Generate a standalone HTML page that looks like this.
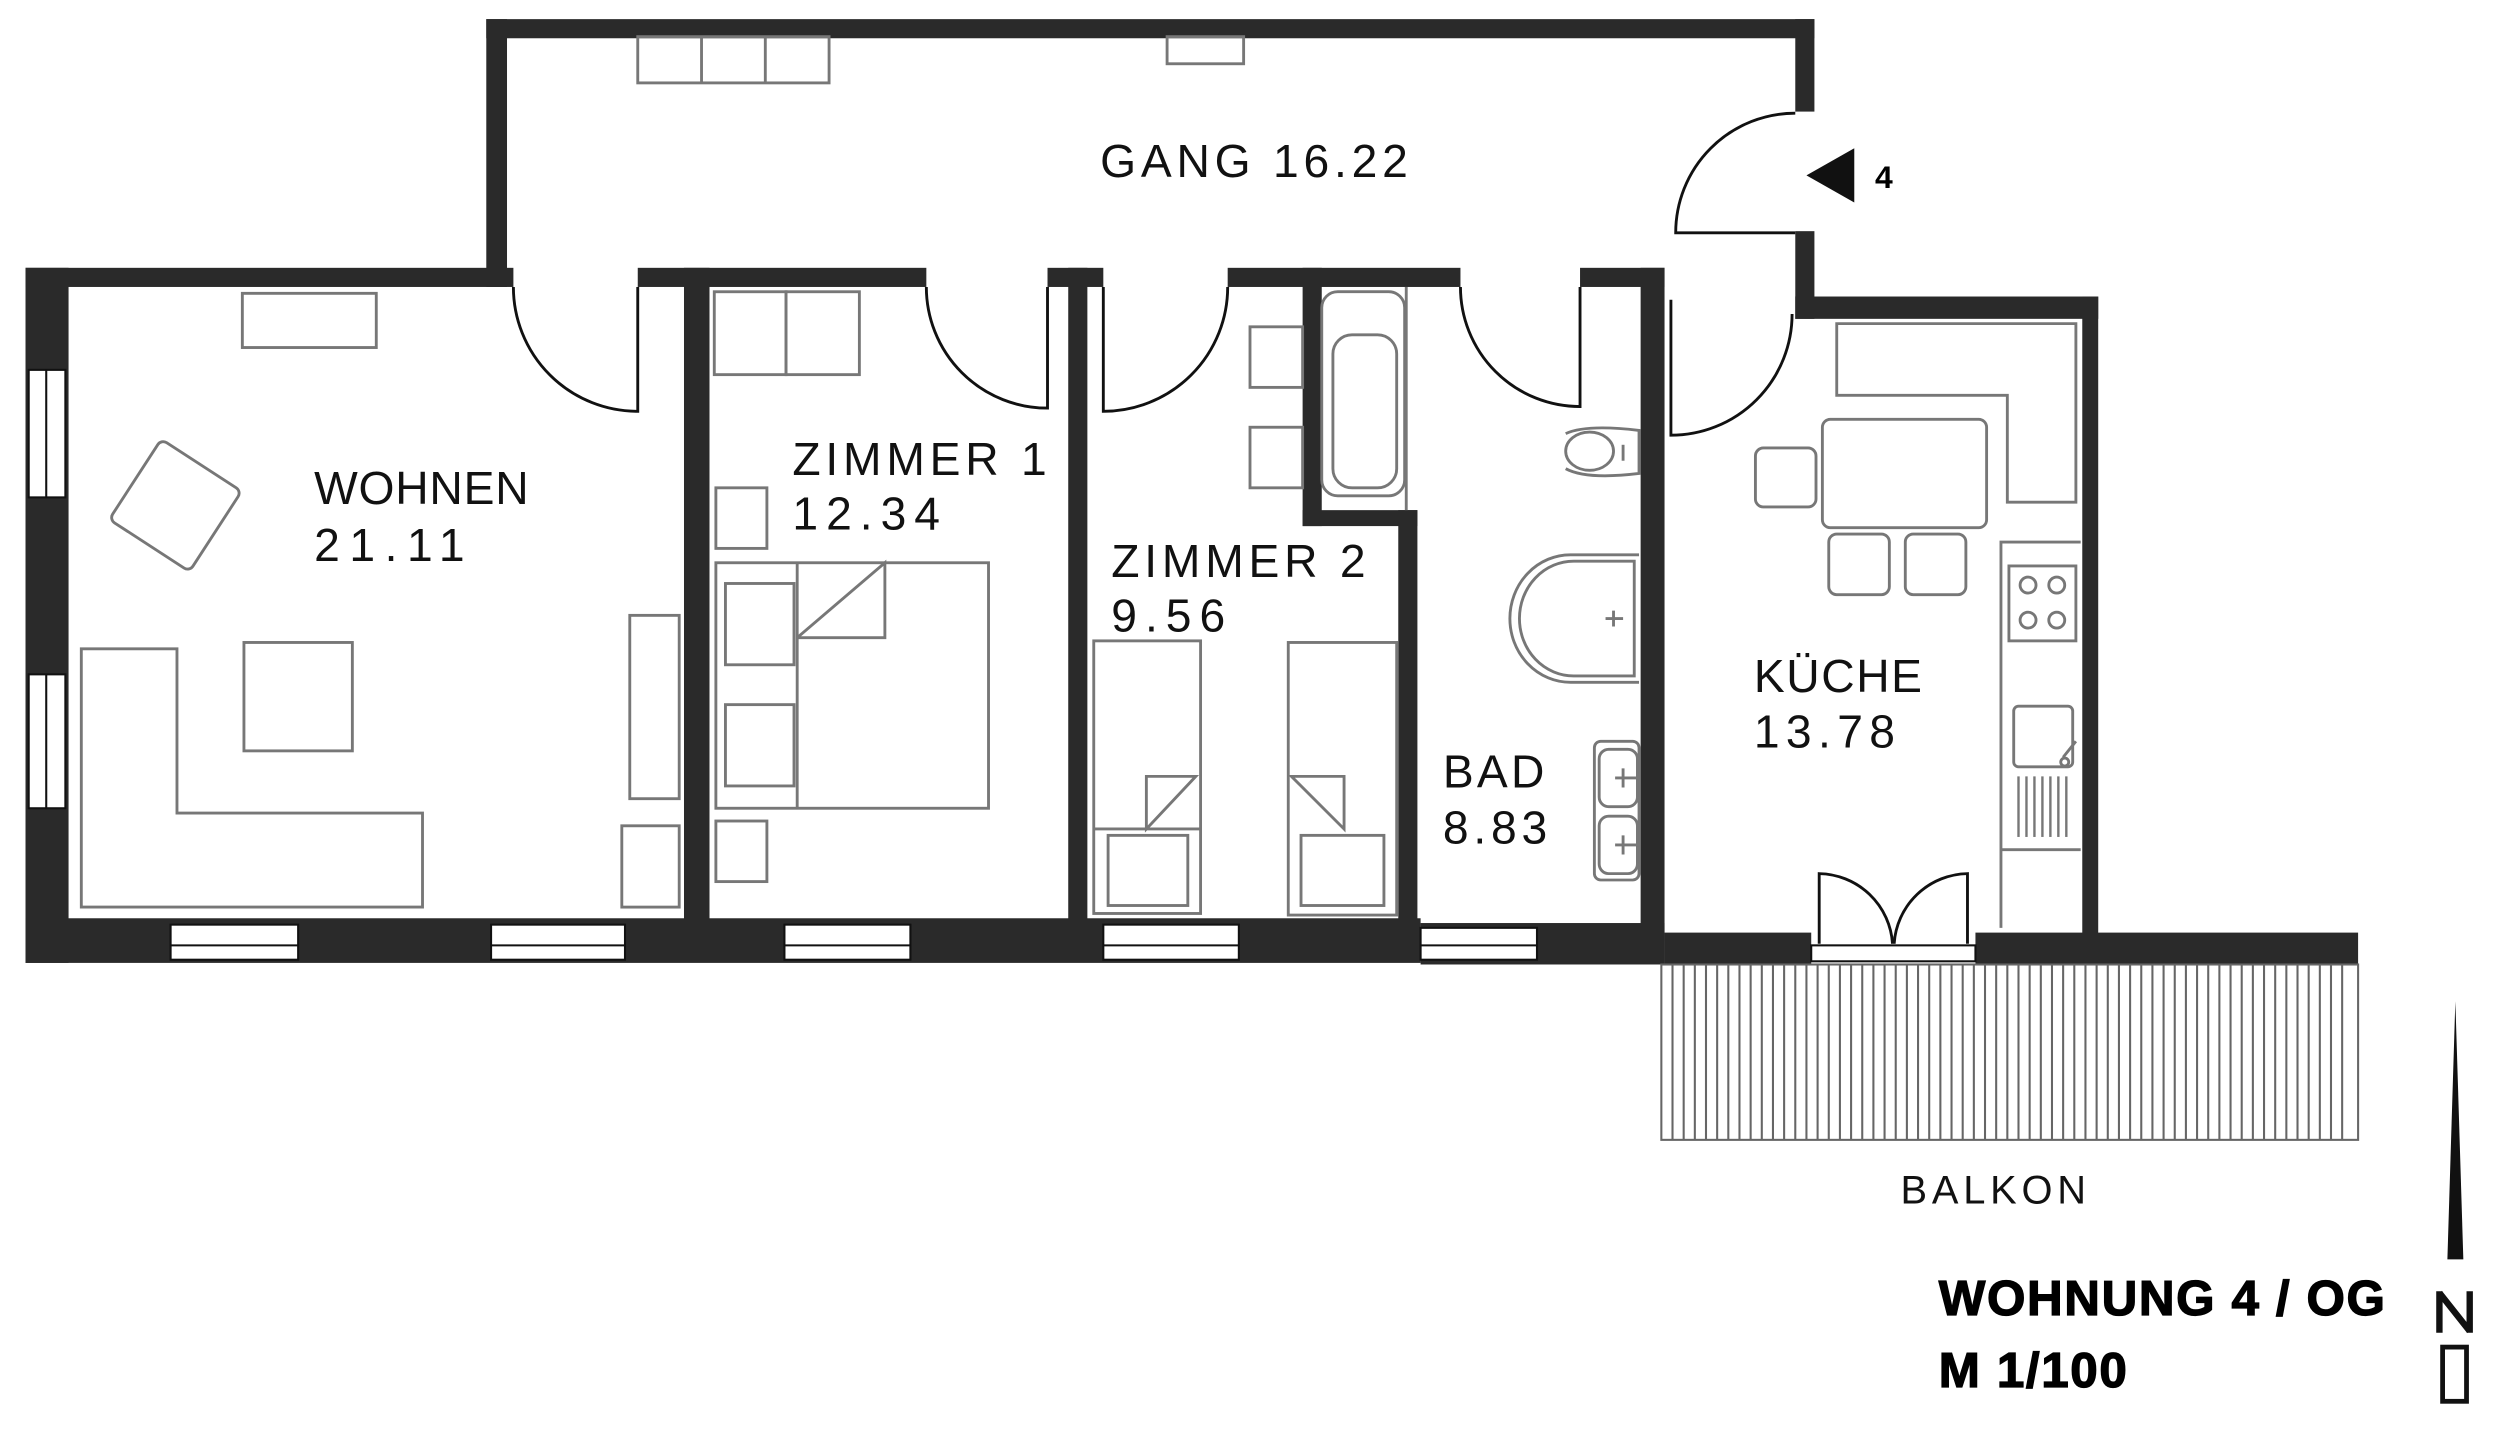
<!DOCTYPE html>
<html><head><meta charset="utf-8"><style>
html,body{margin:0;padding:0;background:#fff;}
svg{display:block;}
.lbl{font-family:"Liberation Sans",sans-serif;font-size:29px;fill:#111;letter-spacing:3px;}
.f{fill:none;stroke:#777;stroke-width:1.8;}
.d{fill:none;stroke:#111;stroke-width:1.8;}
.b{font-family:'Liberation Sans',sans-serif;font-weight:bold;font-size:31px;letter-spacing:1px;stroke:#000;stroke-width:0.8px;}
</style></head><body>
<svg width="2500" height="1430" viewBox="0 0 1568 897" preserveAspectRatio="none" xmlns="http://www.w3.org/2000/svg">
<rect width="1568" height="897" fill="#fff"/>
<g fill="#2a2a2a">
<rect x="305" y="12" width="833" height="12"/>
<rect x="305" y="12" width="13" height="168"/>
<rect x="1126" y="12" width="12" height="58"/>
<rect x="1126" y="145" width="12" height="55"/>
<rect x="16" y="168" width="306" height="12"/>
<rect x="400" y="168" width="181" height="12"/>
<rect x="657" y="168" width="35" height="12"/>
<rect x="770" y="168" width="146" height="12"/>
<rect x="991" y="168" width="53" height="12"/>
<rect x="1126" y="186" width="190" height="14"/>
<rect x="16" y="168" width="27" height="436"/>
<rect x="429" y="168" width="16" height="412"/>
<rect x="670" y="168" width="12" height="412"/>
<rect x="817" y="168" width="12" height="162"/>
<rect x="817" y="320" width="72" height="10"/>
<rect x="877" y="320" width="12" height="262"/>
<rect x="1029" y="168" width="15" height="422"/>
<rect x="1306" y="186" width="10" height="402"/>
<rect x="16" y="576" width="875" height="28"/>
<rect x="891" y="579" width="153" height="26"/>
<rect x="1044" y="585" width="92" height="20"/>
<rect x="1239" y="585" width="240" height="20"/>
</g>
<g fill="#fff" stroke="#111" stroke-width="1.3">
<rect x="18" y="232" width="23" height="80"/><line x1="29" y1="232" x2="29" y2="312"/>
<rect x="18" y="423" width="23" height="84"/><line x1="29" y1="423" x2="29" y2="507"/>
<rect x="107" y="580" width="80" height="22"/><line x1="107" y1="593" x2="187" y2="593"/>
<rect x="308" y="580" width="84" height="22"/><line x1="308" y1="593" x2="392" y2="593"/>
<rect x="492" y="580" width="79" height="22"/><line x1="492" y1="593" x2="571" y2="593"/>
<rect x="692" y="580" width="85" height="22"/><line x1="692" y1="593" x2="777" y2="593"/>
<rect x="891" y="582" width="73" height="20"/><line x1="891" y1="593" x2="964" y2="593"/>
<rect x="1136" y="593" width="103" height="10"/>
</g>
<g class="d">
<path d="M322 180 A78 78 0 0 0 400 258 L400 180"/>
<path d="M581 180 A76 76 0 0 0 657 256 L657 180"/>
<path d="M770 180 A78 78 0 0 1 692 258 L692 180"/>
<path d="M916 180 A75 75 0 0 0 991 255 L991 180"/>
<path d="M1126 71 A75 75 0 0 0 1051 146 L1126 146"/>
<path d="M1048 188 L1048 273 A76 76 0 0 0 1124 197"/>
<path d="M1141 592 L1141 548 A47 47 0 0 1 1187 592"/>
<path d="M1234 592 L1234 548 A47 47 0 0 0 1188 592"/>
</g>
<g class="f">
<rect x="400" y="23" width="120" height="29"/><line x1="440" y1="23" x2="440" y2="52"/><line x1="480" y1="23" x2="480" y2="52"/>
<rect x="732" y="23" width="48" height="17"/>
<rect x="152" y="184" width="84" height="34"/>
<rect x="80" y="287" width="60" height="60" rx="4" transform="rotate(33 110 317)"/>
<path d="M51 407 H111 V510 H265 V569 H51 Z"/>
<rect x="153" y="403" width="68" height="68"/>
<rect x="395" y="386" width="31" height="115"/>
<rect x="390" y="518" width="36" height="51"/>
<rect x="448" y="183" width="45" height="52"/><rect x="493" y="183" width="46" height="52"/>
<rect x="449" y="306" width="32" height="38"/>
<rect x="449" y="353" width="171" height="154"/>
<line x1="500" y1="353" x2="500" y2="507"/>
<path d="M500 400 L555 353 V400 H500"/>
<rect x="455" y="366" width="43" height="51"/><rect x="455" y="442" width="43" height="51"/>
<rect x="449" y="515" width="32" height="38"/>
<rect x="784" y="205" width="33" height="38"/><rect x="784" y="268" width="33" height="38"/>
<rect x="686" y="402" width="67" height="171"/>
<rect x="695" y="524" width="50" height="44"/>
<path d="M719 520 V487 H750 L719 520 Z M686 520 H753"/>
<rect x="808" y="403" width="68" height="171"/>
<rect x="816" y="524" width="52" height="44"/>
<path d="M843 520 L810 487 H843 Z"/>
<rect x="829" y="183" width="52" height="128" rx="10"/>
<rect x="836" y="210" width="40" height="96" rx="12"/>
<line x1="882" y1="180" x2="882" y2="320"/>
<ellipse cx="997" cy="283" rx="15" ry="12"/>
<path d="M982 272 Q995 266 1028 270 V297 Q995 301 982 294"/>
<line x1="1018" y1="279" x2="1018" y2="289"/>
<path d="M1028 348 H985 A38 40 0 0 0 985 428 H1028"/>
<path d="M1025 352 H987 A34 36 0 0 0 987 424 H1025 Z"/>
<path d="M1007 388 H1018 M1012 383 V393"/>
<rect x="1000" y="465" width="28" height="87" rx="4"/>
<rect x="1003" y="470" width="24" height="36" rx="6"/>
<rect x="1003" y="512" width="24" height="36" rx="6"/>
<path d="M1013 488 H1028 M1018 482 V494 M1013 530 H1028 M1018 524 V536"/>
<path d="M1152 203 H1302 V315 H1259 V248 H1152 Z"/>
<rect x="1143" y="263" width="103" height="68" rx="5"/>
<rect x="1101" y="281" width="38" height="37" rx="5"/>
<rect x="1147" y="335" width="38" height="38" rx="5"/>
<rect x="1195" y="335" width="38" height="38" rx="5"/>
<path d="M1305 340 H1255 V582"/>
<rect x="1260" y="355" width="42" height="47"/>
<circle cx="1272" cy="367" r="5"/><circle cx="1290" cy="367" r="5"/><circle cx="1272" cy="389" r="5"/><circle cx="1290" cy="389" r="5"/>
<rect x="1263" y="443" width="37" height="38" rx="3"/>
<path d="M1294 475 L1302 465" /><circle cx="1295" cy="478" r="2.5"/>
<line x1="1255" y1="533" x2="1305" y2="533"/>
</g>
<g stroke="#777" stroke-width="1.5">
<line x1="1266" y1="487" x2="1266" y2="525"/><line x1="1271" y1="487" x2="1271" y2="525"/><line x1="1276" y1="487" x2="1276" y2="525"/><line x1="1281" y1="487" x2="1281" y2="525"/><line x1="1286" y1="487" x2="1286" y2="525"/><line x1="1291" y1="487" x2="1291" y2="525"/><line x1="1296" y1="487" x2="1296" y2="525"/>
</g>
<rect x="1042" y="605" width="437" height="110" stroke="#666" stroke-width="1.3" fill="none"/>
<path stroke="#666" stroke-width="1.3" d="
M1049 605V715M1056 605V715M1063 605V715M1070 605V715M1077 605V715M1084 605V715M1091 605V715M1098 605V715M1105 605V715M1112 605V715
M1119 605V715M1126 605V715M1133 605V715M1140 605V715M1147 605V715M1154 605V715M1161 605V715M1168 605V715M1175 605V715M1182 605V715
M1189 605V715M1196 605V715M1203 605V715M1210 605V715M1217 605V715M1224 605V715M1231 605V715M1238 605V715M1245 605V715M1252 605V715
M1259 605V715M1266 605V715M1273 605V715M1280 605V715M1287 605V715M1294 605V715M1301 605V715M1308 605V715M1315 605V715M1322 605V715
M1329 605V715M1336 605V715M1343 605V715M1350 605V715M1357 605V715M1364 605V715M1371 605V715M1378 605V715M1385 605V715M1392 605V715
M1399 605V715M1406 605V715M1413 605V715M1420 605V715M1427 605V715M1434 605V715M1441 605V715M1448 605V715M1455 605V715M1462 605V715M1469 605V715"/>
<text class="lbl" x="690" y="111">GANG 16.22</text>
<text class="lbl" x="197" y="316" style="letter-spacing:0.5px">WOHNEN</text><text class="lbl" x="197" y="352" style="letter-spacing:6px">21.11</text>
<text class="lbl" x="497" y="298">ZIMMER 1</text><text class="lbl" x="497" y="332" style="letter-spacing:5px">12.34</text>
<text class="lbl" x="697" y="362">ZIMMER 2</text><text class="lbl" x="697" y="396" style="letter-spacing:5px">9.56</text>
<text class="lbl" x="905" y="494" style="letter-spacing:2px">BAD</text><text class="lbl" x="905" y="529">8.83</text>
<text class="lbl" x="1100" y="434" style="letter-spacing:1px">KÜCHE</text><text class="lbl" x="1100" y="469" style="letter-spacing:4px">13.78</text>
<text class="lbl" x="1192" y="755" style="font-size:25px">BALKON</text>
<polygon points="1133,110 1163,93 1163,127" fill="#111"/>
<text x="1176" y="118" style="font-family:'Liberation Sans',sans-serif;font-weight:bold;font-size:20px">4</text>
<text class="b" x="1216" y="825">WOHNUNG 4 / OG</text>
<text class="b" x="1216" y="870">M 1/100</text>
<polygon points="1540,628 1535,790 1545,790" fill="#111"/>
<path d="M1530 810 V836 M1530 811 L1549 835 M1549 810 V836" stroke="#111" stroke-width="4" fill="none"/>
<rect x="1532" y="845" width="15" height="34" fill="none" stroke="#111" stroke-width="3"/>
</svg>
</body></html>
